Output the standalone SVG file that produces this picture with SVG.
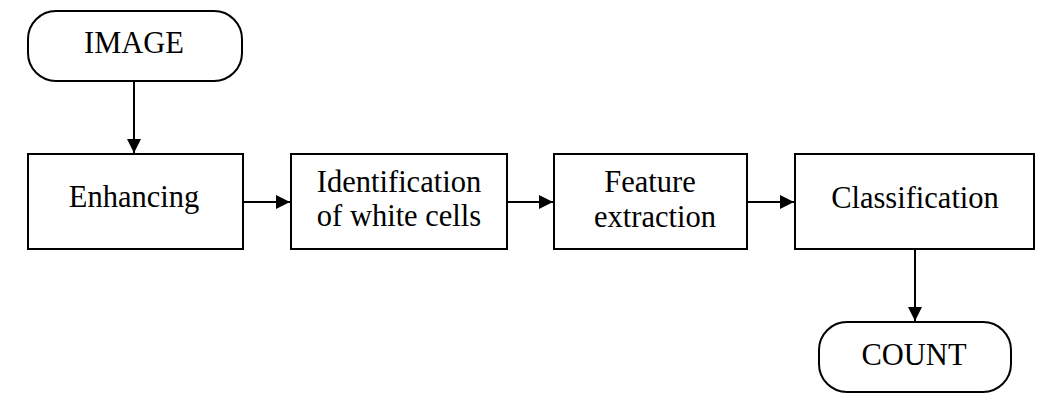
<svg xmlns="http://www.w3.org/2000/svg" width="1050" height="411" viewBox="0 0 1050 411">
<style>
.box{fill:#fff;stroke:#000;stroke-width:2}
.t{font-family:'Liberation Serif','Times New Roman',serif;font-size:30.5px;fill:#000;text-anchor:middle}
.c{stroke:#000;stroke-width:2;fill:none;marker-end:url(#ah)}
</style>
<defs>
<marker id="ah" markerWidth="14" markerHeight="14" refX="14" refY="7" orient="auto" markerUnits="userSpaceOnUse">
<path d="M0,0 L14,7 L0,14 Z" fill="#000"/>
</marker>
</defs>
<rect width="1050" height="411" fill="#fff"/>
<g id="connectors">
<line class="c" x1="134" y1="81" x2="134" y2="153"/>
<line class="c" x1="243" y1="202" x2="290" y2="202"/>
<line class="c" x1="507" y1="202" x2="553" y2="202"/>
<line class="c" x1="747" y1="202" x2="794" y2="202"/>
<line class="c" x1="915" y1="249" x2="915" y2="321"/>
</g>
<g id="image">
<rect class="box" x="28" y="11" width="214" height="70" rx="28" ry="28"/>
<text class="t" x="134" y="53">IMAGE</text>
</g>
<g id="enhancing">
<rect class="box" x="28" y="154" width="215" height="95"/>
<text class="t" x="134" y="207">Enhancing</text>
</g>
<g id="identification">
<rect class="box" x="291" y="154" width="216" height="95"/>
<text class="t" x="399" y="192">Identification</text>
<text class="t" x="399" y="226">of white cells</text>
</g>
<g id="feature">
<rect class="box" x="554" y="154" width="193" height="95"/>
<text class="t" x="650" y="192">Feature</text>
<text class="t" x="655" y="227">extraction</text>
</g>
<g id="classification">
<rect class="box" x="795" y="154" width="239" height="95"/>
<text class="t" x="915" y="208">Classification</text>
</g>
<g id="count">
<rect class="box" x="819" y="322" width="192" height="70" rx="28" ry="28"/>
<text class="t" x="914" y="365">COUNT</text>
</g>
</svg>
